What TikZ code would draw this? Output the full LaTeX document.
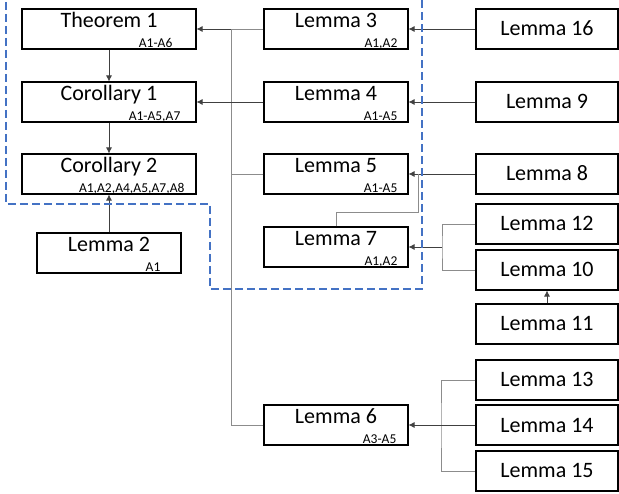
\documentclass[tikz,border=0pt]{standalone}
\usepackage{fontspec}
\setmainfont{Carlito}
\usetikzlibrary{arrows.meta}
\definecolor{groupblue}{RGB}{68,114,196}
\begin{document}
\begin{tikzpicture}[x=1pt,y=-1pt]
    \tikzstyle{box}=[draw, line width=1.1pt, inner sep=0pt, minimum height=40pt, text height=14pt, text depth=0pt, font=\fontsize{22}{26}\selectfont];
    \tikzstyle{wide}=[box, minimum width=174pt];
    \tikzstyle{narrow}=[box, minimum width=144pt];
    \tikzstyle{side}=[box, minimum width=142pt];
    \tikzstyle{tagged}=[text depth=16pt];
    \tikzstyle{tag}=[inner sep=0pt, anchor=base east, font=\fontsize{13.5}{15}\selectfont];
    \tikzstyle{arr}=[draw=black!75, line width=0.7pt, -{Latex[length=6pt,width=6pt]}];
    \tikzstyle{feed}=[draw=black!45, line width=0.7pt];
    \tikzstyle{group}=[draw=groupblue, line width=2.6pt, dash pattern=on 8pt off 4pt];
    \useasboundingbox (0,0) rectangle (619,494);
    % results and the lemmas they use
    \node[wide, tagged] (thm1) at (109,29) {Theorem 1};
    \node[wide, tagged] (cor1) at (109,102) {Corollary 1};
    \node[wide, tagged] (cor2) at (109,174) {Corollary 2};
    \node[narrow, tagged] (lem2) at (109,253) {Lemma 2};
    \node[narrow, tagged] (lem3) at (336,29) {Lemma 3};
    \node[narrow, tagged] (lem4) at (336,102) {Lemma 4};
    \node[narrow, tagged] (lem5) at (336,174) {Lemma 5};
    \node[narrow, tagged] (lem7) at (336,247) {Lemma 7};
    \node[narrow, tagged] (lem6) at (336,425) {Lemma 6};
    \node[side] (lem16) at (547,29) {Lemma 16};
    \node[side] (lem9) at (547,102) {Lemma 9};
    \node[side] (lem8) at (547,174) {Lemma 8};
    \node[side] (lem12) at (547,224) {Lemma 12};
    \node[side] (lem10) at (547,270) {Lemma 10};
    \node[side] (lem11) at (547,324) {Lemma 11};
    \node[side] (lem13) at (547,380) {Lemma 13};
    \node[side] (lem14) at (547,425) {Lemma 14};
    \node[side] (lem15) at (547,471) {Lemma 15};
    % assumptions
    \node[tag] (thm1-tag) at ([xshift=-24pt,yshift=2pt]thm1.south east) {A1-A6};
    \node[tag] (cor1-tag) at ([xshift=-16pt,yshift=2pt]cor1.south east) {A1-A5,A7};
    \node[tag] (cor2-tag) at ([xshift=-12pt,yshift=2pt]cor2.south east) {A1,A2,A4,A5,A7,A8};
    \node[tag] (lem2-tag) at ([xshift=-21pt,yshift=2pt]lem2.south east) {A1};
    \node[tag] (lem3-tag) at ([xshift=-11pt,yshift=2pt]lem3.south east) {A1,A2};
    \node[tag] (lem4-tag) at ([xshift=-11pt,yshift=2pt]lem4.south east) {A1-A5};
    \node[tag] (lem5-tag) at ([xshift=-11pt,yshift=2pt]lem5.south east) {A1-A5};
    \node[tag] (lem7-tag) at ([xshift=-11pt,yshift=2pt]lem7.south east) {A1,A2};
    \node[tag] (lem6-tag) at ([xshift=-12pt,yshift=2pt]lem6.south east) {A3-A5};
    % junctions
    \coordinate (j1) at (231,29);
    \coordinate (j2) at (418,212);
    \coordinate (j3) at (442,247);
    \coordinate (j4) at (441,425);
    % connectors
    \draw[arr] (thm1) -- (cor1);
    \draw[arr] (cor1) -- (cor2);
    \draw[arr] (lem2) -- (cor2);
    \draw[feed] (lem3.west) -- (j1);
    \draw[arr] (j1) -- (thm1);
    \draw[feed] (lem5.west) -- (lem5.west -| j1);
    \draw[feed] (lem6.west) -| (j1);
    \draw[arr] (lem4) -- (cor1);
    \draw[arr] (lem16) -- (lem3);
    \draw[arr] (lem9) -- (lem4);
    \draw[arr] (lem8) -- (lem5);
    \draw[feed] (lem7.north) |- (j2) -- (j2 |- lem5);
    \draw[feed] (lem12.west) -| (j3) |- (lem10.west);
    \draw[arr] (j3) -- (lem7);
    \draw[arr] (lem11) -- (lem10);
    \draw[feed] (lem13.west) -| (j4) |- (lem15.west);
    \draw[arr] (lem14) -- (lem6);
    % the group of main results
    \draw[group] (6,-10) -- (6,204) -- (210,204) -- (210,289) -- (422,289) -- (422,-10);
\end{tikzpicture}
\end{document}
